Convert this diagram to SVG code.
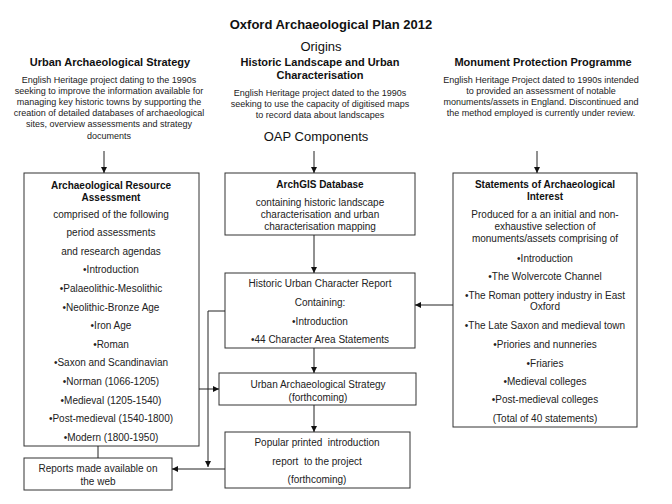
<svg xmlns="http://www.w3.org/2000/svg" width="672" height="504" viewBox="0 0 672 504">
<defs>
<marker id="ah" markerUnits="userSpaceOnUse" markerWidth="7" markerHeight="7" refX="6" refY="3" orient="auto">
<path d="M0,0 L6,3 L0,6 Z" fill="#111"/>
</marker>
<style>
text{font-family:"Liberation Sans",Arial,sans-serif;fill:#111;text-anchor:middle}
.t{font-size:13px;font-weight:bold}
.s{font-size:13px}
.h{font-size:11px;font-weight:bold}
.p{font-size:9px;fill:#222}
.bh{font-size:10px;font-weight:bold}
.b{font-size:10px;fill:#222}
rect{fill:#fff;stroke:#333;stroke-width:1}
.c{fill:none;stroke:#222;stroke-width:1}
</style>
</defs>
<rect x="0" y="0" width="672" height="504" style="stroke:none"/>
<g id="header">
<text class="t" x="331" y="29">Oxford Archaeological Plan 2012</text>
<text class="s" x="321" y="51">Origins</text>
<text class="s" x="316" y="141">OAP Components</text>
</g>
<g id="origin-uas">
<text class="h" x="110" y="66">Urban Archaeological Strategy</text>
<text class="p" x="109" y="83">English Heritage project dating to the 1990s</text>
<text class="p" x="109" y="94">seeking to improve the information available for</text>
<text class="p" x="109" y="105">managing key historic towns by supporting the</text>
<text class="p" x="109" y="116">creation of detailed databases of archaeological</text>
<text class="p" x="109" y="127">sites, overview assessments and strategy</text>
<text class="p" x="109" y="139">documents</text>
</g>
<g id="origin-hlc">
<text class="h" x="320" y="66">Historic Landscape and Urban</text>
<text class="h" x="320" y="79">Characterisation</text>
<text class="p" x="320" y="96">English Heritage project dated to the 1990s</text>
<text class="p" x="320" y="107">seeking to use the capacity of digitised maps</text>
<text class="p" x="320" y="118">to record data about landscapes</text>
</g>
<g id="origin-mpp">
<text class="h" x="543" y="66">Monument Protection Programme</text>
<text class="p" x="541" y="83">English Heritage Project dated to 1990s intended</text>
<text class="p" x="541" y="94">to provided an assessment of notable</text>
<text class="p" x="541" y="105">monuments/assets in England. Discontinued and</text>
<text class="p" x="541" y="116">the method employed is currently under review.</text>
</g>
<g id="ara">
<rect x="24" y="173" width="175" height="273"/>
<text class="bh" x="111" y="189">Archaeological Resource</text>
<text class="bh" x="111" y="201">Assessment</text>
<text class="b" x="111" y="217.5">comprised of the following</text>
<text class="b" x="111" y="236">period assessments</text>
<text class="b" x="111" y="254.7">and research agendas</text>
<text class="b" x="111" y="273.3">•Introduction</text>
<text class="b" x="111" y="291.9">•Palaeolithic-Mesolithic</text>
<text class="b" x="111" y="310.5">•Neolithic-Bronze Age</text>
<text class="b" x="111" y="329.1">•Iron Age</text>
<text class="b" x="111" y="347.7">•Roman</text>
<text class="b" x="111" y="366.3">•Saxon and Scandinavian</text>
<text class="b" x="111" y="384.9">•Norman (1066-1205)</text>
<text class="b" x="111" y="403.5">•Medieval (1205-1540)</text>
<text class="b" x="111" y="422.1">•Post-medieval (1540-1800)</text>
<text class="b" x="111" y="440.7">•Modern (1800-1950)</text>
</g>
<g id="reports">
<rect x="24" y="458" width="148" height="32"/>
<text class="b" x="98" y="471.5">Reports made available on</text>
<text class="b" x="98" y="484.5">the web</text>
</g>
<g id="archgis">
<rect x="225" y="173" width="190" height="62"/>
<text class="bh" x="320" y="188">ArchGIS Database</text>
<text class="b" x="320" y="205.5">containing historic landscape</text>
<text class="b" x="320" y="217.5">characterisation and urban</text>
<text class="b" x="320" y="230">characterisation mapping</text>
</g>
<g id="hucr">
<rect x="225" y="273" width="190" height="75"/>
<text class="b" x="320" y="287">Historic Urban Character Report</text>
<text class="b" x="320" y="306">Containing:</text>
<text class="b" x="320" y="324.5">•Introduction</text>
<text class="b" x="320" y="343">•44 Character Area Statements</text>
</g>
<g id="uas">
<rect x="219" y="373" width="197" height="32"/>
<text class="b" x="318" y="387.5">Urban Archaeological Strategy</text>
<text class="b" x="318" y="400.5">(forthcoming)</text>
</g>
<g id="popular">
<rect x="225" y="432" width="185" height="56"/>
<text class="b" x="317" y="445.5" xml:space="preserve">Popular printed  introduction</text>
<text class="b" x="317" y="464.5" xml:space="preserve">report  to the project</text>
<text class="b" x="317" y="482.5">(forthcoming)</text>
</g>
<g id="sai">
<rect x="453" y="173" width="184" height="254"/>
<text class="bh" x="545" y="188">Statements of Archaeological</text>
<text class="bh" x="545" y="199.5">Interest</text>
<text class="b" x="545" y="217.5">Produced for a an initial and non-</text>
<text class="b" x="545" y="229.5">exhaustive selection of</text>
<text class="b" x="545" y="241.5">monuments/assets comprising of</text>
<text class="b" x="545" y="261.5">•Introduction</text>
<text class="b" x="545" y="279.5">•The Wolvercote Channel</text>
<text class="b" x="545" y="298.5">•The Roman pottery industry in East</text>
<text class="b" x="545" y="309.5">Oxford</text>
<text class="b" x="545" y="328.5">•The Late Saxon and medieval town</text>
<text class="b" x="545" y="347.5">•Priories and nunneries</text>
<text class="b" x="545" y="366.5">•Friaries</text>
<text class="b" x="545" y="384.5">•Medieval colleges</text>
<text class="b" x="545" y="402.5">•Post-medieval colleges</text>
<text class="b" x="545" y="421.5">(Total of 40 statements)</text>
</g>
<g id="connectors">
<path class="c" d="M104,151 V173" marker-end="url(#ah)"/>
<path class="c" d="M314,151 V173" marker-end="url(#ah)"/>
<path class="c" d="M537,151 V173" marker-end="url(#ah)"/>
<path class="c" d="M314,235 V273" marker-end="url(#ah)"/>
<path class="c" d="M314,348 V373" marker-end="url(#ah)"/>
<path class="c" d="M314,405 V432" marker-end="url(#ah)"/>
<path class="c" d="M453,305 H415" marker-end="url(#ah)"/>
<path class="c" d="M199,389 H219" marker-end="url(#ah)"/>
<path class="c" d="M225,311 H208 V467" marker-end="url(#ah)"/>
<path class="c" d="M225,469 H172" marker-end="url(#ah)"/>
<path class="c" d="M98,446 V458"/>
</g>
</svg>
